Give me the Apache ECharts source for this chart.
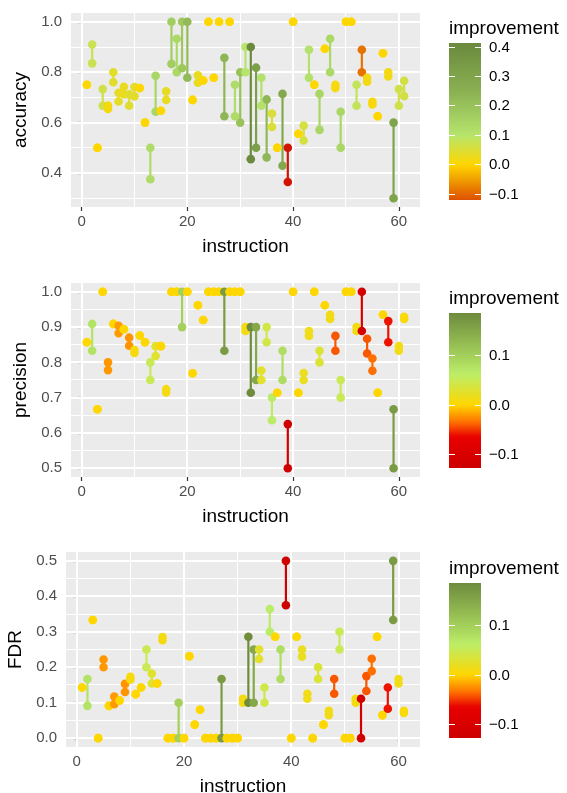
<!DOCTYPE html>
<html>
<head>
<meta charset="UTF-8">
<title>instruction improvement</title>
<script src="https://cdn.jsdelivr.net/npm/echarts@6.0.0/dist/echarts.min.js"></script>
<style>
    html, body { margin: 0; padding: 0; background: #ffffff; }
    #chart { width: 567px; height: 793px; }
</style>
</head>
<body>
<div id="chart"></div>
<script>
// instruction index, shared by the three panels
var instruction = [1, 2, 3, 4, 5, 6, 7, 8, 9, 10, 11, 12, 13, 14, 15, 16, 17, 18, 19, 20,
    21, 22, 23, 24, 25, 26, 27, 28, 29, 30, 31, 32, 33, 34, 35, 36, 37, 38, 39, 40,
    41, 42, 43, 44, 45, 46, 47, 48, 49, 50, 51, 52, 53, 54, 55, 56, 57, 58, 59, 60, 61];

// accuracy before / after
var accBefore = [0.75, 0.835, 0.5, 0.667, 0.654, 0.76, 0.684, 0.713, 0.667, 0.704,
    0.737, 0.6, 0.375, 0.643, 0.647, 0.69, 0.833, 0.8, 0.816, 0.778,
    0.69, 0.758, 0.767, 1.0, 0.778, 1.0, 0.625, 1.0, 0.625, 0.6,
    0.8, 0.455, 0.5, 0.667, 0.462, 0.583, 0.5, 0.429, 0.5, 1.0,
    0.556, 0.529, 0.778, 0.75, 0.571, 0.893, 0.8, 0.737, 0.5, 1.0,
    1.0, 0.667, 0.889, 0.762, 0.672, 0.625, 0.875, 0.783, 0.3, 0.667, 0.705];
var accAfter = [0.75, 0.91, 0.5, 0.733, 0.668, 0.8, 0.718, 0.742, 0.712, 0.741,
    0.737, 0.6, 0.5, 0.786, 0.647, 0.724, 1.0, 0.933, 1.0, 1.0,
    0.69, 0.788, 0.767, 1.0, 0.778, 1.0, 0.857, 1.0, 0.75, 0.8,
    0.9, 0.9, 0.818, 0.778, 0.692, 0.636, 0.5, 0.714, 0.364, 1.0,
    0.556, 0.588, 0.889, 0.75, 0.714, 0.893, 0.933, 0.75, 0.643, 1.0,
    1.0, 0.75, 0.8, 0.778, 0.683, 0.625, 0.875, 0.8, 0.6, 0.733, 0.766];

// precision before / after
var precBefore = [0.857, 0.833, 0.667, 1.0, 0.8, 0.909, 0.904, 0.894, 0.87, 0.827,
    0.876, 0.857, 0.75, 0.818, 0.846, 0.715, 1.0, 1.0, 0.9, 1.0,
    0.769, 0.962, 0.92, 1.0, 1.0, 1.0, 0.833, 1.0, 1.0, 1.0,
    0.889, 0.714, 0.75, 0.75, 0.857, 0.636, 0.714, 0.75, 0.625, 1.0,
    0.714, 0.75, 0.875, 1.0, 0.8, 0.962, 0.923, 0.875, 0.7, 1.0,
    1.0, 0.889, 1.0, 0.867, 0.811, 0.714, 0.935, 0.917, 0.5, 0.833, 0.923];
var precAfter = [0.857, 0.909, 0.667, 1.0, 0.778, 0.909, 0.883, 0.894, 0.847, 0.835,
    0.876, 0.857, 0.8, 0.846, 0.846, 0.724, 1.0, 1.0, 1.0, 1.0,
    0.769, 0.962, 0.92, 1.0, 1.0, 1.0, 1.0, 1.0, 1.0, 1.0,
    0.9, 0.9, 0.9, 0.777, 0.9, 0.7, 0.714, 0.833, 0.5, 1.0,
    0.714, 0.77, 0.889, 1.0, 0.833, 0.962, 0.935, 0.833, 0.75, 1.0,
    1.0, 0.9, 0.889, 0.825, 0.776, 0.714, 0.935, 0.857, 0.667, 0.846, 0.929];

// FDR before / after (lower is better)
var fdrBefore = [0.143, 0.167, 0.333, 0.0, 0.2, 0.091, 0.096, 0.106, 0.13, 0.173,
    0.124, 0.143, 0.25, 0.182, 0.154, 0.285, 0.0, 0.0, 0.1, 0.0,
    0.231, 0.038, 0.08, 0.0, 0.0, 0.0, 0.167, 0.0, 0.0, 0.0,
    0.111, 0.286, 0.25, 0.25, 0.143, 0.364, 0.286, 0.25, 0.375, 0.0,
    0.286, 0.25, 0.125, 0.0, 0.2, 0.038, 0.077, 0.125, 0.3, 0.0,
    0.0, 0.111, 0.0, 0.133, 0.189, 0.286, 0.065, 0.083, 0.5, 0.167, 0.077];
var fdrAfter = [0.143, 0.091, 0.333, 0.0, 0.222, 0.091, 0.117, 0.106, 0.153, 0.165,
    0.124, 0.143, 0.2, 0.154, 0.154, 0.276, 0.0, 0.0, 0.0, 0.0,
    0.231, 0.038, 0.08, 0.0, 0.0, 0.0, 0.0, 0.0, 0.0, 0.0,
    0.1, 0.1, 0.1, 0.223, 0.1, 0.3, 0.286, 0.167, 0.5, 0.0,
    0.286, 0.23, 0.111, 0.0, 0.167, 0.038, 0.065, 0.167, 0.25, 0.0,
    0.0, 0.1, 0.111, 0.175, 0.224, 0.286, 0.065, 0.143, 0.333, 0.154, 0.071];

// axis breaks
var xMajor = [0, 20, 40, 60];
var xMinor = [10, 30, 50];
var accMajor = [0.4, 0.6, 0.8, 1.0];
var accMinor = [0.3, 0.5, 0.7, 0.9];
var precMajor = [0.5, 0.6, 0.7, 0.8, 0.9, 1.0];
var precMinor = [0.55, 0.65, 0.75, 0.85, 0.95];
var fdrMajor = [0.0, 0.1, 0.2, 0.3, 0.4, 0.5];
var fdrMinor = [0.05, 0.15, 0.25, 0.35, 0.45];

// legend breaks
var accLegendTicks = [0.4, 0.3, 0.2, 0.1, 0.0, -0.1];
var precLegendTicks = [0.1, 0.0, -0.1];

// colour ramps: [value, colour]
var accColors = [[-0.14, '#D00000'], [-0.125, '#DC4C00'], [-0.1, '#E36500'], [-0.045, '#F2A500'],
    [0.0, '#FFD700'], [0.1, '#B6E56C'], [0.25, '#8AB052'], [0.41, '#6B8A3E']];
var precColors = [[-0.128, '#CD0000'], [-0.065, '#E80000'], [-0.035, '#FF7000'],
    [0.0, '#FFD700'], [0.062, '#BCEE68'], [0.187, '#6E8B3D']];

var font = 'Liberation Sans';

function hexToRgb(h) {
    return [parseInt(h.slice(1, 3), 16), parseInt(h.slice(3, 5), 16), parseInt(h.slice(5, 7), 16)];
}
function ramp(anchors, v) {
    if (v <= anchors[0][0]) return anchors[0][1];
    for (var i = 1; i < anchors.length; i++) {
        if (v <= anchors[i][0]) {
            var a = anchors[i - 1], b = anchors[i];
            var t = (v - a[0]) / (b[0] - a[0]);
            var ca = hexToRgb(a[1]), cb = hexToRgb(b[1]);
            return 'rgb(' + ca.map(function (c, k) { return Math.round(c + (cb[k] - c) * t); }).join(',') + ')';
        }
    }
    return anchors[anchors.length - 1][1];
}
function sampleRamp(anchors, lo, hi, n) {
    var out = [];
    for (var i = 0; i < n; i++) out.push(ramp(anchors, lo + (hi - lo) * i / (n - 1)));
    return out;
}
function fmtLegend(v) {
    return v < 0 ? '\u2212' + Math.abs(v).toFixed(1) : v.toFixed(1);
}

var panels = [
    { name: 'accuracy', before: accBefore, after: accAfter, sign: 1,
      left: 71, top: 13, height: 194, yMin: 0.265, yMax: 1.035,
      yMajor: accMajor, yMinor: accMinor, colors: accColors, vm: [-0.14, 0.45],
      bar: { top: 43, height: 157, min: -0.12, max: 0.414 }, legendTicks: accLegendTicks, titleY: 29 },
    { name: 'precision', before: precBefore, after: precAfter, sign: 1,
      left: 71, top: 283, height: 194, yMin: 0.475, yMax: 1.025,
      yMajor: precMajor, yMinor: precMinor, colors: precColors, vm: [-0.128, 0.187],
      bar: { top: 313, height: 155, min: -0.128, max: 0.187 }, legendTicks: precLegendTicks, titleY: 299 },
    { name: 'FDR', before: fdrBefore, after: fdrAfter, sign: -1,
      left: 66, top: 552, height: 195, yMin: -0.025, yMax: 0.525,
      yMajor: fdrMajor, yMinor: fdrMinor, colors: precColors, vm: [-0.128, 0.187],
      bar: { top: 583, height: 155, min: -0.128, max: 0.187 }, legendTicks: precLegendTicks, titleY: 569 }
];

// snap a line position to the pixel grid so white grid lines stay crisp
function snap(v, w) {
    return w % 2 ? Math.floor(v) + 0.5 : Math.round(v);
}
function gridRender(params, api) {
    var cs = params.coordSys;
    var v = api.value(0), horiz = api.value(1), major = api.value(2);
    var w = major ? 2 : 1;
    var shape;
    if (horiz) {
        var y = snap(api.coord([0, v])[1], w);
        shape = { x1: cs.x, y1: y, x2: cs.x + cs.width, y2: y };
    } else {
        var x = snap(api.coord([v, 0])[0], w);
        shape = { x1: x, y1: cs.y, x2: x, y2: cs.y + cs.height };
    }
    return { type: 'line', silent: true, shape: shape,
             style: { stroke: '#FFFFFF', lineWidth: w } };
}
function segRender(params, api) {
    var a = api.coord([api.value(0), api.value(1)]);
    var b = api.coord([api.value(0), api.value(2)]);
    return { type: 'line', shape: { x1: a[0], y1: a[1], x2: b[0], y2: b[1] },
             style: { stroke: api.visual('color'), lineWidth: 2.2 } };
}
function pointRender(params, api) {
    var a = api.coord([api.value(0), api.value(1)]);
    var b = api.coord([api.value(0), api.value(2)]);
    var c = api.visual('color');
    return { type: 'group', children: [
        { type: 'circle', shape: { cx: a[0], cy: a[1], r: 4.3 }, style: { fill: c } },
        { type: 'circle', shape: { cx: b[0], cy: b[1], r: 4.3 }, style: { fill: c } }
    ] };
}

var option = { animation: false, grid: [], xAxis: [], yAxis: [], series: [], visualMap: [], graphic: [] };

panels.forEach(function (p, i) {
    var rows = instruction.map(function (x, k) {
        return [x, p.before[k], p.after[k], p.sign * (p.after[k] - p.before[k])];
    });
    var lines = [];
    xMinor.forEach(function (v) { lines.push([v, 0, 0]); });
    p.yMinor.forEach(function (v) { lines.push([v, 1, 0]); });
    xMajor.forEach(function (v) { lines.push([v, 0, 1]); });
    p.yMajor.forEach(function (v) { lines.push([v, 1, 1]); });

    option.grid.push({ left: p.left, top: p.top, width: 420 - p.left, height: p.height,
        show: true, backgroundColor: '#EBEBEB', borderWidth: 0, outerBoundsMode: 'none' });

    option.xAxis.push({ type: 'value', gridIndex: i, min: -2, max: 64,
        splitLine: { show: false }, axisLine: { show: false },
        axisTick: { show: true, length: 4, customValues: xMajor, lineStyle: { color: '#333333', width: 1.2 } },
        axisLabel: { customValues: xMajor, color: '#4D4D4D', fontSize: 15, fontFamily: font, margin: 7 },
        name: 'instruction', nameLocation: 'middle', nameGap: 30,
        nameTextStyle: { fontSize: 19, color: '#000000', fontFamily: font } });

    option.yAxis.push({ type: 'value', gridIndex: i, min: p.yMin, max: p.yMax,
        splitLine: { show: false }, axisLine: { show: false },
        axisTick: { show: true, length: 4, customValues: p.yMajor, lineStyle: { color: '#333333', width: 1.2 } },
        axisLabel: { customValues: p.yMajor, color: '#4D4D4D', fontSize: 15, fontFamily: font, margin: 9,
            formatter: function (v) { return (+v).toFixed(1); } },
        name: p.name, nameLocation: 'middle', nameRotate: 90, nameGap: 40,
        nameTextStyle: { fontSize: 19, color: '#000000', fontFamily: font } });

    option.series.push({ type: 'custom', xAxisIndex: i, yAxisIndex: i, silent: true,
        renderItem: gridRender, data: lines, z: 1 });
    option.series.push({ type: 'custom', xAxisIndex: i, yAxisIndex: i,
        renderItem: segRender, data: rows, z: 2 });
    option.series.push({ type: 'custom', xAxisIndex: i, yAxisIndex: i,
        renderItem: pointRender, data: rows, z: 3 });

    option.visualMap.push({ type: 'continuous', show: false, seriesIndex: [i * 3 + 1, i * 3 + 2],
        dimension: 3, min: p.vm[0], max: p.vm[1],
        inRange: { color: sampleRamp(p.colors, p.vm[0], p.vm[1], 60) } });

    // colour bar legend
    var b = p.bar;
    var stops = sampleRamp(p.colors, b.max, b.min, 40).map(function (c, k) {
        return { offset: k / 39, color: c };
    });
    option.graphic.push({ type: 'text', x: 449, y: p.titleY,
        style: { text: 'improvement', fontSize: 19, fontFamily: font, fill: '#000000', verticalAlign: 'middle' } });
    option.graphic.push({ type: 'rect', shape: { x: 449, y: b.top, width: 32, height: b.height },
        style: { fill: new echarts.graphic.LinearGradient(0, 0, 0, 1, stops) } });
    p.legendTicks.forEach(function (v) {
        var y = snap(b.top + (b.max - v) / (b.max - b.min) * b.height, 1);
        option.graphic.push({ type: 'line', shape: { x1: 449, y1: y, x2: 455, y2: y }, style: { stroke: '#FFFFFF', lineWidth: 1 } });
        option.graphic.push({ type: 'line', shape: { x1: 475, y1: y, x2: 481, y2: y }, style: { stroke: '#FFFFFF', lineWidth: 1 } });
        option.graphic.push({ type: 'text', x: 489, y: y,
            style: { text: fmtLegend(v), fontSize: 15, fontFamily: font, fill: '#000000', verticalAlign: 'middle' } });
    });
});

var chart = echarts.init(document.getElementById('chart'), null, { renderer: 'canvas' });
chart.setOption(option);
</script>
</body>
</html>
